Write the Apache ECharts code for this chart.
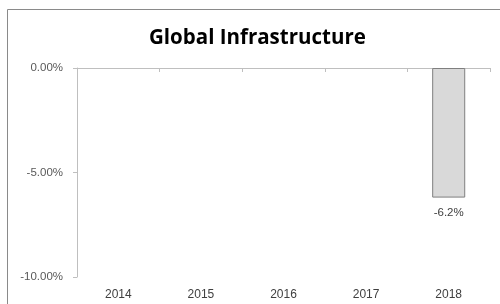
<!DOCTYPE html>
<html>
<head>
    <meta charset="utf-8">
    <title>Global Infrastructure</title>
    <script src="https://cdn.jsdelivr.net/npm/echarts@6/dist/echarts.min.js"></script>
    <style>
        body { margin: 0; background: #fff; }
        #chart1 { width: 500px; height: 304px; }
    </style>
</head>
<body>
<div id="chart1"></div>
<script>
    // 数据
    var years = ['2014', '2015', '2016', '2017', '2018'];
    var changes = [null, null, null, null, -6.2];
    var yTicks = [0, -5, -10];

    var myChart = echarts.init(document.getElementById('chart1'));
    myChart.setOption({
        animation: false,
        graphic: [
            {
                type: 'rect',
                shape: {x: 7.5, y: 9.5, width: 600, height: 400},
                style: {fill: 'none', stroke: '#8a8a8a', lineWidth: 1},
                silent: true
            }
        ],
        title: {
            text: 'Global Infrastructure',
            left: 144,
            top: 23,
            textStyle: {
                fontFamily: 'Open Sans',
                fontSize: 20.5,
                fontWeight: 'bold',
                color: '#000'
            }
        },
        grid: {left: 77, right: 10, top: 68, bottom: 27},
        xAxis: [
            {
                type: 'category',
                position: 'bottom',
                data: years,
                axisLine: {show: false},
                axisTick: {show: false},
                axisLabel: {
                    margin: 12,
                    fontFamily: 'Liberation Sans',
                    fontSize: 12,
                    color: '#404040'
                }
            },
            {
                type: 'category',
                position: 'top',
                data: years,
                axisLine: {show: true, lineStyle: {color: '#bfbfbf'}},
                axisTick: {show: true, inside: true, length: 4, lineStyle: {color: '#bfbfbf'}},
                axisLabel: {show: false}
            }
        ],
        yAxis: {
            type: 'value',
            min: yTicks[2],
            max: yTicks[0],
            interval: 5,
            axisLine: {show: true, lineStyle: {color: '#bfbfbf'}},
            axisTick: {show: true, length: 4, lineStyle: {color: '#bfbfbf'}},
            splitLine: {show: false},
            axisLabel: {
                margin: 14,
                fontFamily: 'Liberation Sans',
                fontSize: 11.5,
                color: '#595959',
                formatter: function (v) { return v.toFixed(2) + '%'; }
            }
        },
        series: [
            {
                type: 'bar',
                xAxisIndex: 0,
                data: changes,
                barWidth: '40%',
                itemStyle: {color: '#d9d9d9', borderColor: '#7f7f7f', borderWidth: 1},
                label: {
                    show: true,
                    position: 'bottom',
                    distance: 9,
                    fontFamily: 'Liberation Sans',
                    fontSize: 11.5,
                    color: '#404040',
                    formatter: function (p) { return p.value.toFixed(1) + '%'; }
                }
            }
        ]
    });
</script>
</body>
</html>
